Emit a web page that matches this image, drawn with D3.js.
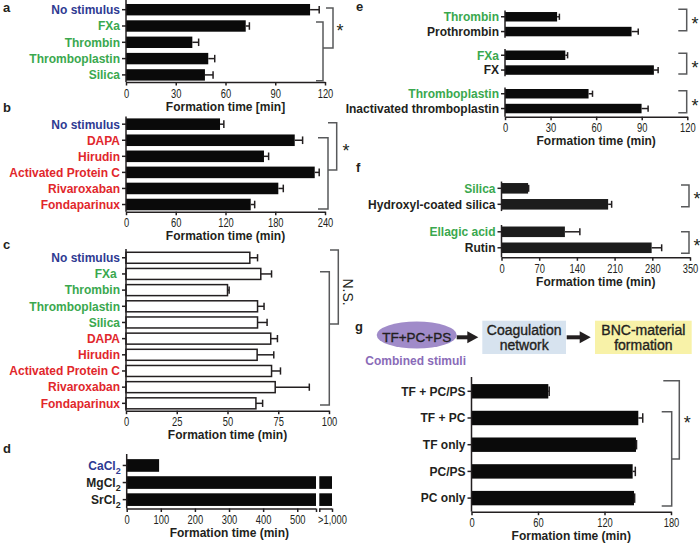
<!DOCTYPE html>
<html><head><meta charset="utf-8">
<script src="https://cdn.jsdelivr.net/npm/d3@7"></script>
<style>
body{margin:0;background:#fff;}
svg{display:block;}
</style></head><body>
<svg id="c" width="700" height="544"></svg>
<script>
// ---------- data ----------
const aCats = ["No stimulus","FXa","Thrombin","Thromboplastin","Silica"];
const aVals = [111, 72.2, 40, 49.6, 47.6];
const aErrs = [5.5, 2.2, 3.8, 3.9, 4.9];
const aColors = ["blue","green","green","green","green"];
const aTicks = [0,30,60,90,120];

const bCats = ["No stimulus","DAPA","Hirudin","Activated Protein C","Rivaroxaban","Fondaparinux"];
const bVals = [113.4, 203.5, 166.4, 227.6, 183.7, 150.4];
const bErrs = [4.6, 9.5, 5.6, 5.4, 6.0, 4.8];
const bColors = ["blue","red","red","red","red","red"];
const bTicks = [0,60,120,180,240];

const cCats = ["No stimulus","FXa ","Thrombin","Thromboplastin","Silica","DAPA","Hirudin","Activated Protein C","Rivaroxaban","Fondaparinux"];
const cVals = [61, 66.4, 50, 64.8, 64.8, 71.3, 64.6, 71.7, 73.5, 64];
const cErrs = [3.8, 5.3, 0.8, 3.2, 4.7, 3.3, 8.2, 4.4, 16.8, 3.3];
const cColors = ["blue","green","green","green","green","red","red","red","red","red"];
const cTicks = [0,25,50,75,100];

const dCats = ["CaCl2","MgCl2","SrCl2"];
const dVals = [95, 1000, 1000];
const dColors = ["blue","dark","dark"];
const dTicks = [0,100,200,300,400,500,1000];
const dTickLabels = ["0","100","200","300","400","500",">1,000"];

const eCats = ["Thrombin","Prothrombin","FXa","FX","Thromboplastin","Inactivated thromboplastin"];
const eGroups = [0,0,1,1,2,2];
const eVals = [34.3, 83.3, 39.7, 98, 55, 89.9];
const eErrs = [1.5, 4.4, 1.5, 2.8, 2.6, 4.3];
const eColors = ["green","dark","green","dark","green","dark"];
const eTicks = [0,30,60,90,120];

const fCats = ["Silica","Hydroxyl-coated silica","Ellagic acid","Rutin"];
const fGroups = [0,0,1,1];
const fVals = [49.4, 198, 117.7, 278.8];
const fErrs = [1, 6.5, 27.8, 18.6];
const fColors = ["green","dark","green","dark"];
const fTicks = [0,70,140,210,280,350];

const gCats = ["TF + PC/PS","TF + PC","TF only","PC/PS","PC only"];
const gVals = [69.3, 150.5, 148.4, 145.4, 146.6];
const gErrs = [0.8, 4.0, 0.5, 2.4, 0.6];
const gColors = ["dark","dark","dark","dark","dark"];
const gTicks = [0,60,120,180];
const gSteps = [["TF+PC+PS"],["Coagulation","network"],["BNC-material","formation"]];
const gStepNote = "Combined stimuli";

// ---------- style ----------
const FONT = "'Liberation Sans', Arial, Helvetica, sans-serif";
const INK = "#231f20";
const BRK = "#58595b";
const PAL = {blue:"#2e3a92", green:"#3aa84e", red:"#e1272c", dark:INK};
const svg = d3.select("#c");

function panel(o) {
  const g = svg.append("g");
  const x = o.xScale || d3.scaleLinear().domain(o.xDomain).range(o.xRange);
  const y = d3.scaleBand().domain(o.cats).range(o.band).padding(o.pad);
  const bw = y.bandwidth();
  const grp = o.groups || o.cats.map(() => 0);
  const x0 = x(0);
  const rows = o.cats.map((c, i) => ({
    c, i, v: o.vals[i], e: o.errs ? o.errs[i] : 0,
    col: PAL[o.colors[i]], t: y(c) + grp[i] * (o.gap || 0), grp: grp[i]
  }));
  // bars (with optional axis break)
  const segs = [];
  rows.forEach(r => {
    if (o.brk && r.v > o.brk[1]) { segs.push([r, 0, o.brk[0]]); segs.push([r, o.brk[1], r.v]); }
    else segs.push([r, 0, r.v]);
  });
  g.selectAll("rect.bar").data(segs).join("rect")
    .attr("x", d => x(d[1])).attr("y", d => d[0].t)
    .attr("width", d => x(d[2]) - x(d[1])).attr("height", bw)
    .attr("fill", o.fill).attr("stroke", o.stroke || "none").attr("stroke-width", 1.5);
  // error bars
  const eb = g.selectAll("g.err").data(rows.filter(r => r.e > 0)).join("g")
    .attr("stroke", INK).attr("stroke-width", 1.5);
  eb.append("line").attr("x1", d => x(d.v)).attr("x2", d => x(d.v + d.e))
    .attr("y1", d => d.t + bw / 2).attr("y2", d => d.t + bw / 2);
  eb.append("line").attr("x1", d => x(d.v + d.e)).attr("x2", d => x(d.v + d.e))
    .attr("y1", d => d.t + bw / 2 - bw * 0.33).attr("y2", d => d.t + bw / 2 + bw * 0.33);
  // y axis line(s)
  const ng = d3.max(grp) + 1;
  const ysegs = d3.range(ng).map(k => {
    const rr = rows.filter(r => r.grp === k);
    const top = ng > 1 ? d3.min(rr, r => r.t) - 1.5 : o.yTop;
    const bot = k === ng - 1 ? o.axisY : d3.max(rr, r => r.t + bw) + 1.5;
    return [top, bot];
  });
  g.selectAll("line.yax").data(ysegs).join("line")
    .attr("x1", x0).attr("x2", x0).attr("y1", d => d[0]).attr("y2", d => d[1])
    .attr("stroke", INK).attr("stroke-width", 1.5);
  g.selectAll("line.ytick").data(rows).join("line")
    .attr("x1", x0 - 4).attr("x2", x0).attr("y1", d => d.t + bw / 2).attr("y2", d => d.t + bw / 2)
    .attr("stroke", INK).attr("stroke-width", 1.5);
  // category labels
  const lab = g.selectAll("text.cat").data(rows).join("text")
    .attr("x", x0 - 6).attr("y", d => d.t + bw / 2).attr("dy", "0.36em")
    .attr("text-anchor", "end").attr("font-family", FONT).attr("font-size", 12)
    .attr("font-weight", "bold").attr("fill", d => d.col).style("white-space", "pre");
  if (o.sub) {
    lab.each(function(d) {
      const m = d.c.match(/^(.*?)(\d+)$/);
      const t = d3.select(this);
      t.append("tspan").text(m[1]);
      t.append("tspan").attr("font-size", 9).attr("dy", 4).text(m[2]);
    });
  } else lab.text(d => d.c);
  // x axis
  const ax = d3.axisBottom(x).tickValues(o.tickVals || o.ticks).tickSize(3.5).tickPadding(3.5).tickSizeOuter(0);
  if (o.tickFormat) ax.tickFormat(o.tickFormat);
  const axg = g.append("g").attr("transform", `translate(0,${o.axisY})`).call(ax)
    .attr("font-family", FONT).attr("font-size", 12);
  axg.select(".domain").attr("stroke", INK).attr("stroke-width", 1.5);
  axg.selectAll(".tick line").attr("stroke", INK).attr("stroke-width", 1.5);
  axg.selectAll(".tick text").attr("fill", INK).attr("transform", "scale(0.78,1)");
  if (o.brk) {
    axg.select(".domain").remove();
    axg.selectAll("line.dseg").data([[0, o.brk[0]], [o.brk[1], x.domain()[x.domain().length - 1]]]).join("line")
      .attr("x1", d => x(d[0])).attr("x2", d => x(d[1])).attr("y1", 0.5).attr("y2", 0.5)
      .attr("stroke", INK).attr("stroke-width", 1.5);
  }
  // title
  const r = x.range();
  g.append("text").attr("x", (r[0] + r[r.length - 1]) / 2).attr("y", o.axisY + 28.5)
    .attr("text-anchor", "middle").attr("font-family", FONT).attr("font-size", 12)
    .attr("font-weight", "bold").attr("fill", INK).text(o.title || "Formation time (min)");
  // panel letter
  g.append("text").attr("x", o.letter[1]).attr("y", o.letter[2]).attr("font-family", FONT)
    .attr("font-size", 13).attr("font-weight", "bold").attr("fill", INK).text(o.letter[0]);
  return g;
}

function bracket(x, y0, y1, t0, t1) {
  svg.append("path").attr("d", `M${x - t0},${y0}H${x}V${y1}H${x - t1}`)
    .attr("fill", "none").attr("stroke", BRK).attr("stroke-width", 1.5);
}
function star(x, y) {
  svg.append("text").attr("x", x).attr("y", y + 10).attr("text-anchor", "middle")
    .attr("font-family", FONT).attr("font-size", 18).attr("fill", INK).text("*");
}

// ---------- panel a ----------
panel({cats:aCats, vals:aVals, errs:aErrs, colors:aColors, ticks:aTicks,
  xDomain:[0,120], xRange:[126,325], band:[-0.9,85.5], pad:0.3, yTop:0, axisY:82,
  fill:"#0a0a0a", title:"Formation time [min]", letter:["a",3,12]});
bracket(333, 8, 48, 7, 10);
bracket(323, 22, 80.7, 7, 7);
star(340, 27);

// ---------- panel b ----------
panel({cats:bCats, vals:bVals, errs:bErrs, colors:bColors, ticks:bTicks,
  xDomain:[0,240], xRange:[126,325], band:[113.9,214.8], pad:0.28, yTop:116.5, axisY:211.7,
  fill:"#0a0a0a", letter:["b",3,112]});
bracket(336.7, 122.7, 170, 8.7, 8.7);
bracket(328, 137.7, 209, 10, 10);
star(346, 147);

// ---------- panel c ----------
panel({cats:cCats, vals:cVals, errs:cErrs, colors:cColors, ticks:cTicks,
  xDomain:[0,100], xRange:[126,329], band:[247.1,414], pad:0.32, yTop:249, axisY:410.7,
  fill:"#fff", stroke:INK, letter:["c",3,249]});
bracket(338.3, 250, 324, 8.3, 9);
bracket(329.3, 271.7, 405, 9.3, 9.3);
svg.append("text").attr("transform", "translate(343,292) rotate(90)").attr("text-anchor", "middle")
  .attr("font-family", FONT).attr("font-size", 14).attr("fill", INK).text("N.S.");

// ---------- panel d ----------
const dBreak = [555, 560];
panel({cats:dCats, vals:dVals, colors:dColors, ticks:dTicks, sub:true,
  xScale: d3.scaleLinear().domain([0, dBreak[0], dBreak[1], 1000]).range([126.7, 316, 319.3, 332]),
  tickVals: dTicks.concat(dBreak),
  tickFormat: d => { const i = dTicks.indexOf(d); return i >= 0 ? dTickLabels[i] : ""; },
  brk: dBreak, band:[454.7,510.4], pad:0.26, yTop:454, axisY:508.5,
  fill:"#0a0a0a", letter:["d",3,453]});

// ---------- panel e ----------
panel({cats:eCats, vals:eVals, errs:eErrs, colors:eColors, groups:eGroups, gap:8.9, ticks:eTicks,
  xDomain:[0,120], xRange:[505,687.3], band:[6.7,100.8], pad:0.36, axisY:116.7,
  fill:"#0a0a0a", letter:["e",356,11]});
bracket(686.7, 9.3, 30.7, 8.4, 8.4); star(695, 20);
bracket(686.7, 53.3, 74, 8.4, 8.4); star(695, 64);
bracket(686.7, 90.7, 112.7, 8.4, 8.4); star(695, 102);

// ---------- panel f ----------
panel({cats:fCats, vals:fVals, errs:fErrs, colors:fColors, groups:fGroups, gap:11.5, ticks:fTicks,
  xDomain:[0,350], xRange:[501.5,690], band:[177.6,247], pad:0.34, axisY:257.3,
  fill:"#1c1c1c", letter:["f",356,172]});
bracket(689, 185, 206.7, 8, 8); star(697, 195);
bracket(689, 231.7, 253.3, 8, 8); star(697, 242);

// ---------- panel g ----------
panel({cats:gCats, vals:gVals, errs:gErrs, colors:gColors, ticks:gTicks,
  xDomain:[0,180], xRange:[471.5,671], band:[371.8,517.6], pad:0.46, yTop:377, axisY:511.7,
  fill:"#0a0a0a", letter:["g",355,331]});
bracket(679.3, 380.7, 459, 16, 7.6);
bracket(671.7, 411.7, 506, 10, 10);
star(687.3, 419);

// diagram
const dg = svg.append("g").attr("font-family", FONT);
dg.append("ellipse").attr("cx", 416.7).attr("cy", 335).attr("rx", 40).attr("ry", 13.5).attr("fill", "#a08bc9");
const boxes = [{x:482.3, w:83.7, fill:"#d7e3ef"}, {x:595, w:96.7, fill:"#f8f2a8"}];
dg.selectAll("rect.box").data(boxes).join("rect")
  .attr("x", d => d.x).attr("y", 320.7).attr("width", d => d.w).attr("height", 33.3).attr("fill", d => d.fill);
const centers = [416.7, 482.3 + 83.7 / 2, 595 + 96.7 / 2];
gSteps.forEach((lines, k) => {
  const cy = 337.3;
  lines.forEach((ln, j) => {
    dg.append("text").attr("x", centers[k]).attr("y", cy + (j - (lines.length - 1) / 2) * 15)
      .attr("dy", "0.36em").attr("text-anchor", "middle").attr("font-size", k === 0 ? 13.5 : 14)
      .attr("fill", INK).attr("stroke", INK).attr("stroke-width", 0.35).text(ln);
  });
});
dg.append("text").attr("x", 415.7).attr("y", 361).attr("dy", "0.36em").attr("text-anchor", "middle")
  .attr("font-size", 12).attr("font-weight", "bold").attr("fill", "#8a6bb8").text(gStepNote);
[[456.7, 478.3], [566.7, 590.7]].forEach(([a, b]) => {
  dg.append("line").attr("x1", a).attr("x2", b - 9).attr("y1", 337.3).attr("y2", 337.3)
    .attr("stroke", INK).attr("stroke-width", 4);
  dg.append("path").attr("d", `M${b - 11},${337.3 - 6}L${b},337.3L${b - 11},${337.3 + 6}Z`).attr("fill", INK);
});
</script>
</body></html>
